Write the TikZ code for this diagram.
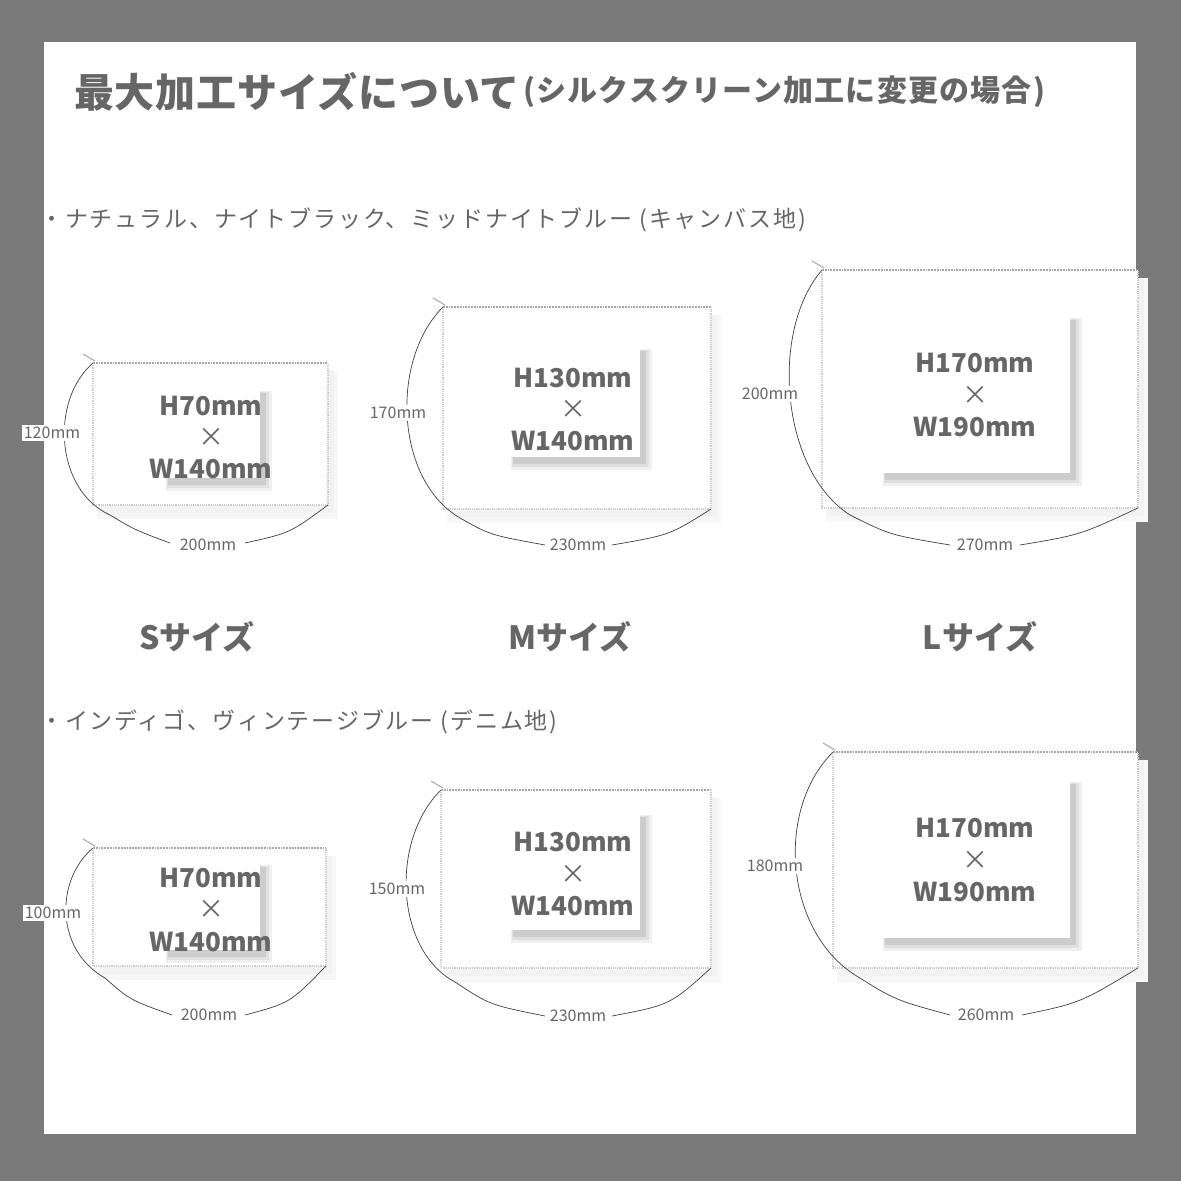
\documentclass[tikz,border=0pt]{standalone}
\usepackage{fontspec}
\setmainfont{Noto Sans CJK JP}
\begin{document}
\begin{tikzpicture}[x=1pt,y=-1pt,
  txt/.style={text=black!60,inner sep=0pt},
  dim/.style={txt,font=\fontsize{16}{16}\selectfont,fill=white,inner sep=2pt},
  big/.style={txt,font=\fontsize{26}{26}\selectfont\bfseries},
  edge/.style={gray!70,densely dotted,line width=1.8pt},
  arc/.style={black!75,line width=0.7pt}]
\fill[black!52] (0,0) rectangle (1181,1181);
\fill[white] (44,42) rectangle (1136,1134);
\node[txt,anchor=west,font=\fontsize{40}{40}\selectfont\bfseries\addfontfeatures{LetterSpace=2}] (title) at (74,92) {最大加工サイズについて};
\node[txt,anchor=west,font=\fontsize{30}{30}\selectfont\bfseries\addfontfeatures{LetterSpace=4}] (sub) at ([xshift=3pt]title.east) {(シルクスクリーン加工に変更の場合)};
\node[txt,anchor=west,font=\fontsize{23}{23}\selectfont\addfontfeatures{LetterSpace=8}] (h1) at (40,220) {・ナチュラル、ナイトブラック、ミッドナイトブルー (キャンバス地)};
\node[txt,anchor=west,font=\fontsize{23}{23}\selectfont\addfontfeatures{LetterSpace=8}] (h2) at (40,722) {・インディゴ、ヴィンテージブルー (デニム地)};
\node[txt,font=\fontsize{32}{32}\selectfont\bfseries] (s) at (197,637) {Sサイズ};
\node[txt,font=\fontsize{32}{32}\selectfont\bfseries] (m) at (570,637) {Mサイズ};
\node[txt,font=\fontsize{32}{32}\selectfont\bfseries] (l) at (980,637) {Lサイズ};
\newcommand{\pouch}[9]{%
 \fill[black!3] (#1+4,#2+8) rectangle (#3+10,#4+14);
 \fill[black!5] (#1+6,#2+8) rectangle (#3+6,#4+8);
 \fill[white] (#1,#2) rectangle (#3,#4);
 \draw[edge] (#1,#2) -- (#3,#2);
 \draw[gray!40,densely dotted,line width=1.2pt] (#1,#2) -- (#1,#4) -- (#3,#4) -- (#3,#2);
 \draw[gray!60,line width=1.2pt] (#1+2,#2-2) -- (#1-10,#2-9);
 \fill[black!6] (#5+3,#6+3) rectangle (#7+12,#8+13);
 \fill[black!12] (#5+4,#6+4) rectangle (#7+9,#8+10);
 \fill[black!20] (#5+5,#6+5) rectangle (#7+6,#8+7);
 \fill[white] (#5,#6) rectangle (#7,#8);
}
\pouch{93}{363}{328}{505}{163}{388}{260}{478}{a}
\pouch{443}{307}{711}{509}{508}{346}{640}{457}{b}
\pouch{822}{270}{1138}{508}{880}{315}{1070}{473}{c}
\pouch{93}{848}{326}{966}{163}{862}{260}{950}{d}
\pouch{441}{790}{711}{968}{508}{812}{640}{930}{e}
\pouch{833}{752}{1138}{968}{880}{779}{1070}{938}{f}
\foreach \x/\a/\b/\c/\h/\w in {211/406/437/469/H70mm/W140mm,573/378/409/441/H130mm/W140mm,975/363/395/427/H170mm/W190mm,
  211/878/909/942/H70mm/W140mm,573/842/874/906/H130mm/W140mm,975/828/860/892/H170mm/W190mm}{
 \node[big] at (\x,\a) {\h};
 \node[txt,font=\fontsize{26}{26}\selectfont] at (\x,\b) {×};
 \node[big] at (\x,\c) {\w};
}
\draw[arc] (93,363) .. controls (50,400) and (55,490) .. (110,515) .. controls (135,530) .. (170,543);
\draw[arc] (245,543) .. controls (290,533) .. (328,505);
\node[dim] (d1) at (52,433) {120mm};
\node[dim] (d2) at (208,545) {200mm};
\draw[arc] (443,307) .. controls (390,360) and (395,480) .. (460,518) .. controls (490,535) .. (545,545);
\draw[arc] (612,545) .. controls (670,535) .. (711,509);
\node[dim] (d3) at (398,413) {170mm};
\node[dim] (d4) at (578,545) {230mm};
\draw[arc] (822,270) .. controls (770,330) and (780,470) .. (850,515) .. controls (890,535) .. (950,545);
\draw[arc] (1020,545) .. controls (1080,535) .. (1138,508);
\node[dim] (d5) at (770,394) {200mm};
\node[dim] (d6) at (985,545) {270mm};
\draw[arc] (93,848) .. controls (55,880) and (55,950) .. (105,978) .. controls (130,1000) .. (172,1015);
\draw[arc] (245,1015) .. controls (290,1003) .. (326,966);
\node[dim] (d7) at (53,913) {100mm};
\node[dim] (d8) at (209,1015) {200mm};
\draw[arc] (441,790) .. controls (390,840) and (395,950) .. (455,982) .. controls (490,1005) .. (545,1016);
\draw[arc] (612,1016) .. controls (670,1005) .. (711,968);
\node[dim] (d9) at (397,889) {150mm};
\node[dim] (d10) at (578,1016) {230mm};
\draw[arc] (833,752) .. controls (775,810) and (785,930) .. (855,975) .. controls (895,1000) .. (950,1015);
\draw[arc] (1022,1015) .. controls (1080,1003) .. (1138,968);
\node[dim] (d11) at (775,866) {180mm};
\node[dim] (d12) at (986,1015) {260mm};
\end{tikzpicture}
\end{document}
